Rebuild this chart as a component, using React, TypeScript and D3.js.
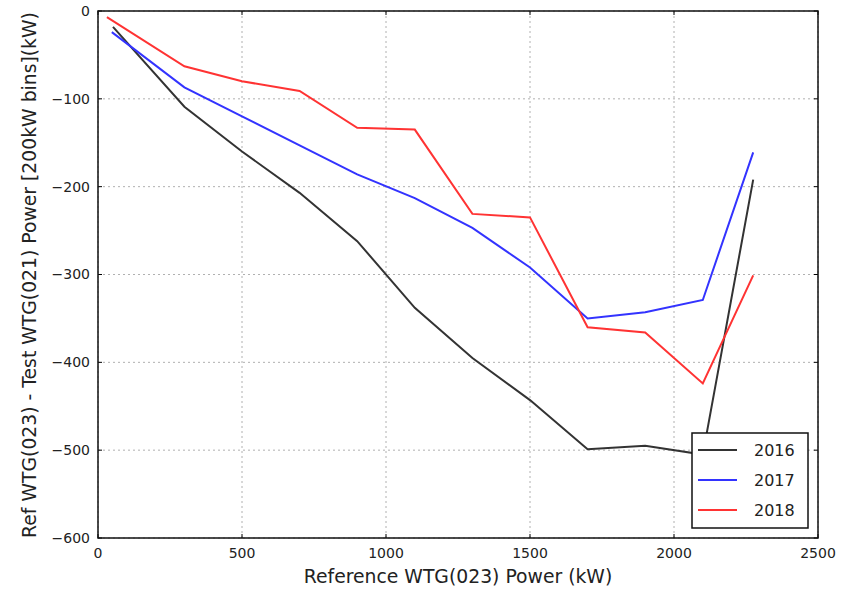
import React from "react";
import * as d3 from "d3";

const xTicks = [0, 500, 1000, 1500, 2000, 2500];
const yTicks = [0, -100, -200, -300, -400, -500, -600];

const x2016 = [52, 300, 500, 700, 900, 1100, 1300, 1500, 1700, 1900, 2100, 2275];
const y2016 = [-18, -109, -160, -207, -262, -338, -395, -443, -499, -495, -505, -192];

const x2017 = [48, 300, 500, 700, 900, 1100, 1300, 1500, 1700, 1900, 2100, 2275];
const y2017 = [-24, -87, -120, -153, -186, -213, -247, -292, -350, -343, -329, -161];

const x2018 = [31, 300, 500, 700, 900, 1100, 1300, 1500, 1700, 1900, 2100, 2275];
const y2018 = [-7, -63, -80, -91, -133, -135, -231, -235, -360, -366, -424, -301];

const seriesNames = ["2016", "2017", "2018"];
const seriesColors = ["#333333", "#3333ff", "#ff3333"];

const W = 851;
const H = 590;
const m = { left: 98, right: 818, top: 11, bottom: 538 };

export default function App() {
  const x = d3.scaleLinear().domain([0, 2500]).range([m.left, m.right]);
  const y = d3.scaleLinear().domain([-600, 0]).range([m.bottom, m.top]);
  const series = [
    { name: seriesNames[0], xs: x2016, ys: y2016, color: seriesColors[0] },
    { name: seriesNames[1], xs: x2017, ys: y2017, color: seriesColors[1] },
    { name: seriesNames[2], xs: x2018, ys: y2018, color: seriesColors[2] },
  ];
  const line = d3
    .line<[number, number]>()
    .x((d) => x(d[0]))
    .y((d) => y(d[1]));
  const fmt = (v: number) => (v < 0 ? "\u2212" + Math.abs(v) : String(v));
  const font = "'DejaVu Sans', sans-serif";
  const tickLen = 4;

  const legX = 692;
  const legY = 433;
  const legW = 116;
  const legH = 95;

  return (
    <div style={{ position: "absolute", left: 0, top: 0 }}>
      <svg width={W} height={H} style={{ display: "block", background: "#fff" }}>
        {/* grid */}
        {xTicks.map((t) => (
          <line
            key={"gx" + t}
            x1={x(t)}
            x2={x(t)}
            y1={m.top}
            y2={m.bottom}
            stroke="#b0b0b0"
            strokeWidth={1}
            strokeDasharray="2,3"
          />
        ))}
        {yTicks.map((t) => (
          <line
            key={"gy" + t}
            x1={m.left}
            x2={m.right}
            y1={y(t)}
            y2={y(t)}
            stroke="#b0b0b0"
            strokeWidth={1}
            strokeDasharray="2,3"
          />
        ))}
        {/* lines */}
        {series.map((s) => (
          <path
            key={s.name}
            d={line(s.xs.map((v, i) => [v, s.ys[i]] as [number, number])) || ""}
            fill="none"
            stroke={s.color}
            strokeWidth={2}
            strokeLinejoin="miter"
          />
        ))}
        {/* ticks */}
        {xTicks.map((t) => (
          <g key={"tx" + t}>
            <line x1={x(t)} x2={x(t)} y1={m.bottom} y2={m.bottom - tickLen} stroke="#000" />
            <line x1={x(t)} x2={x(t)} y1={m.top} y2={m.top + tickLen} stroke="#000" />
            <text
              x={x(t)}
              y={m.bottom + 20}
              textAnchor="middle"
              fontFamily={font}
              fontSize={14}
              fill="#222"
            >
              {fmt(t)}
            </text>
          </g>
        ))}
        {yTicks.map((t) => (
          <g key={"ty" + t}>
            <line x1={m.left} x2={m.left + tickLen} y1={y(t)} y2={y(t)} stroke="#000" />
            <line x1={m.right} x2={m.right - tickLen} y1={y(t)} y2={y(t)} stroke="#000" />
            <text
              x={m.left - 8}
              y={y(t)}
              dy="0.35em"
              textAnchor="end"
              fontFamily={font}
              fontSize={14}
              fill="#222"
            >
              {fmt(t)}
            </text>
          </g>
        ))}
        {/* frame */}
        <rect
          x={m.left}
          y={m.top}
          width={m.right - m.left}
          height={m.bottom - m.top}
          fill="none"
          stroke="#111"
          strokeWidth={1.5}
        />
        {/* legend */}
        <rect x={legX} y={legY} width={legW} height={legH} fill="#fff" stroke="#111" strokeWidth={1.5} />
        {series.map((s, i) => (
          <g key={"leg" + s.name}>
            <line
              x1={legX + 6}
              x2={legX + 45}
              y1={legY + 17 + i * 30}
              y2={legY + 17 + i * 30}
              stroke={s.color}
              strokeWidth={2}
            />
            <text
              x={legX + 62}
              y={legY + 17 + i * 30}
              dy="0.35em"
              fontFamily={font}
              fontSize={16}
              fill="#222"
            >
              {s.name}
            </text>
          </g>
        ))}
        {/* axis labels */}
        <text
          x={458}
          y={583}
          textAnchor="middle"
          fontFamily={font}
          fontSize={18.8}
          fill="#222"
        >
          Reference WTG(023) Power (kW)
        </text>
        <text
          transform={`translate(36, 275) rotate(-90)`}
          textAnchor="middle"
          fontFamily={font}
          fontSize={18.8}
          fill="#222"
        >
          Ref WTG(023) - Test WTG(021) Power [200kW bins](kW)
        </text>
      </svg>
    </div>
  );
}
